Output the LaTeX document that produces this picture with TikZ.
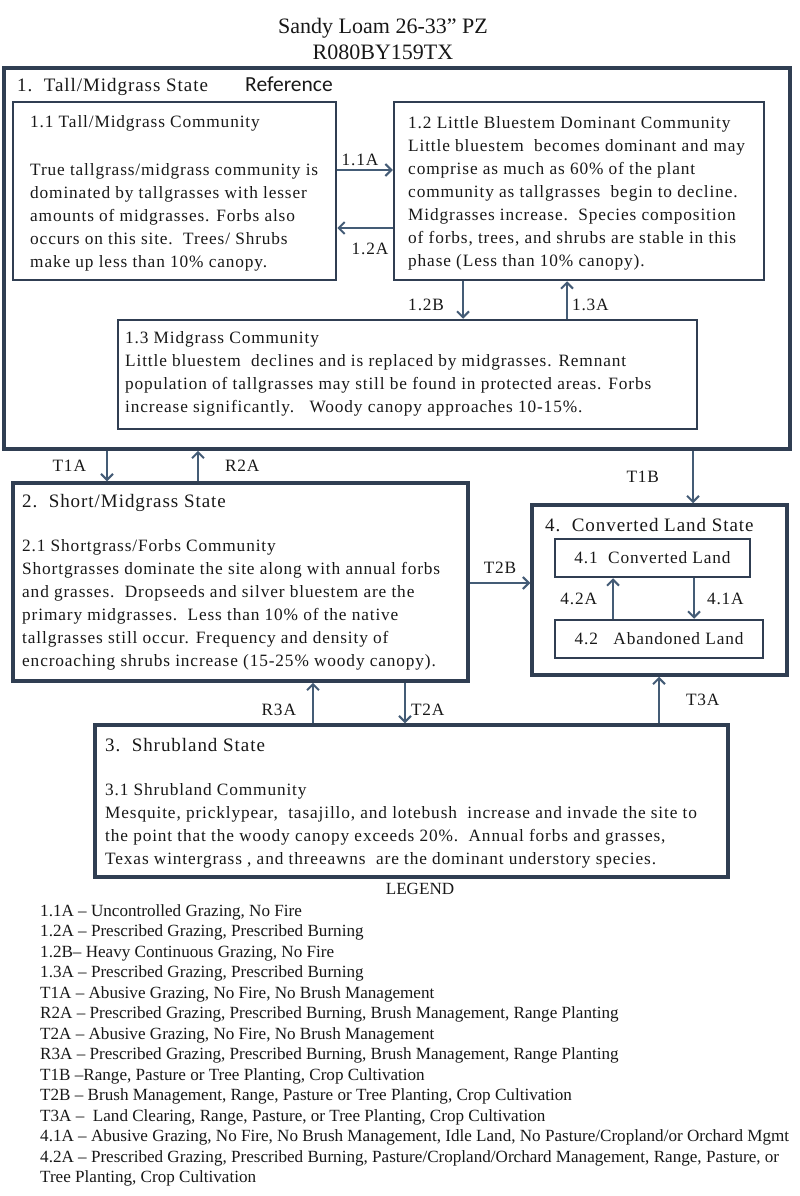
\documentclass[tikz,border=0pt]{standalone}
\usepackage{fontspec}
\setmainfont{Liberation Serif}
\newfontfamily\boxserif[LetterSpace=5]{Liberation Serif}
\newfontfamily\refsans{Carlito}
\usetikzlibrary{arrows.meta}
\definecolor{boxline}{RGB}{48,62,82}
\definecolor{arrline}{RGB}{68,92,118}
\definecolor{ink}{RGB}{24,24,24}
\newcommand\bodysize{\boxserif\fontsize{17.3}{23}\selectfont}
\newcommand\statesize{\boxserif\fontsize{19}{22}\selectfont}
\newcommand\legsize{\fontsize{17.1}{20.5}\selectfont}
\newcommand\titlesize{\fontsize{22}{24}\selectfont}
\tikzset{
  statebox/.style={draw=boxline, line width=3.5pt, inner sep=0pt},
  commbox/.style={draw=boxline, line width=2.5pt, inner sep=0pt, font=\bodysize, text=ink},
  blk/.style={anchor=north west, align=left, inner sep=0pt, font=\bodysize, text=ink},
  stitle/.style={anchor=west, inner sep=0pt, font=\statesize, text=ink},
  lbl/.style={inner sep=0pt, font=\bodysize, text=ink},
  trans/.style={->, draw=arrline, line width=2pt}
}
\begin{document}
\begin{tikzpicture}[x=1pt, y=-1pt, >={Straight Barb[length=6pt,width=12pt]}]
\useasboundingbox (0,0) rectangle (800,1196);

\node[font=\titlesize, text=ink] (title) at (383,28) {Sandy Loam 26-33” PZ};
\node[font=\titlesize, text=ink] (siteid) at (383,52) {R080BY159TX};

\node[statebox, minimum width=786pt, minimum height=381pt] (s1) at (397,258.5) {};
\node[commbox, minimum width=323pt, minimum height=178pt] (c11) at (174.5,191) {};
\node[commbox, minimum width=370pt, minimum height=178pt] (c12) at (579,191) {};
\node[commbox, minimum width=579pt, minimum height=109pt] (c13) at (407.5,374.5) {};
\node[statebox, minimum width=455pt, minimum height=198pt] (s2) at (240.5,582) {};
\node[statebox, minimum width=255pt, minimum height=170pt] (s4) at (659.5,590) {};
\node[commbox, minimum width=195pt, minimum height=38pt] (c41) at (652.5,558) {4.1\ \ Converted Land};
\node[commbox, minimum width=208pt, minimum height=38pt] (c42) at (659,639) {4.2\ \ \ Abandoned Land};
\node[statebox, minimum width=633pt, minimum height=152pt] (s3) at (411.5,801) {};

\node[stitle] (s1name) at (17,87) {1.\ \ Tall/Midgrass State};
\node[anchor=west, inner sep=0pt, font=\refsans\fontsize{21.5}{24}\selectfont, text=ink] (refname) at (245,84) {Reference};
\node[blk] (c11text) at (30,115) {1.1 Tall/Midgrass Community\\[25pt]
True tallgrass/midgrass community is\\
dominated by tallgrasses with lesser\\
amounts of midgrasses. Forbs also\\
occurs on this site.\ \ Trees/ Shrubs\\
make up less than 10\% canopy.};
\node[blk] (c12text) at (408,116) {1.2 Little Bluestem Dominant Community\\
Little bluestem\ \ becomes dominant and may\\
comprise as much as 60\% of the plant\\
community as tallgrasses\ \ begin to decline.\\
Midgrasses increase.\ \ Species composition\\
of forbs, trees, and shrubs are stable in this\\
phase (Less than 10\% canopy).};
\node[blk] (c13text) at (125,331) {1.3 Midgrass Community\\
Little bluestem\ \ declines and is replaced by midgrasses. Remnant\\
population of tallgrasses may still be found in protected areas. Forbs\\
increase significantly.\ \ \ Woody canopy approaches 10-15\%.};

\node[stitle] (s2name) at (22,503) {2.\ \ Short/Midgrass State};
\node[blk] (s2text) at (22,539) {2.1 Shortgrass/Forbs Community\\
Shortgrasses dominate the site along with annual forbs\\
and grasses.\ \ Dropseeds and silver bluestem are the\\
primary midgrasses.\ \ Less than 10\% of the native\\
tallgrasses still occur. Frequency and density of\\
encroaching shrubs increase (15-25\% woody canopy).};

\node[stitle] (s4name) at (545,525) {4.\ \ Converted Land State};

\node[stitle] (s3name) at (105,745) {3.\ \ Shrubland State};
\node[blk] (s3text) at (105,783) {3.1 Shrubland Community\\
Mesquite, pricklypear,\ \ tasajillo, and lotebush\ \ increase and invade the site to\\
the point that the woody canopy exceeds 20\%.\ \ Annual forbs and grasses,\\
Texas wintergrass , and threeawns\ \ are the dominant understory species.};

\draw[trans] (c11.east |- 0,170) -- node[lbl, above=3pt, xshift=-5pt] {1.1A} (c12.west |- 0,170);
\draw[trans] (c12.west |- 0,228) -- node[lbl, below=14pt, xshift=5pt] {1.2A} (c11.east |- 0,228);
\draw[trans] (c12.south -| 463,0) -- node[lbl, left=18pt, yshift=-5pt] {1.2B} (c13.north -| 463,0);
\draw[trans] (c13.north -| 567,0) -- node[lbl, right=4pt, yshift=-5pt] {1.3A} (c12.south -| 567,0);
\draw[trans] (s1.south -| 107,0) -- node[lbl, left=20pt] {T1A} (s2.north -| 107,0);
\draw[trans] (s2.north -| 198,0) -- node[lbl, right=26pt] {R2A} (s1.south -| 198,0);
\draw[trans] (s1.south -| 693,0) -- node[lbl, left=33pt] {T1B} (s4.north -| 693,0);
\draw[trans] (s2.east |- 0,583) -- node[lbl, above=8pt] {T2B} (s4.west |- 0,583);
\draw[trans] (c41.south -| 694,0) -- node[lbl, right=12pt] {4.1A} (c42.north -| 694,0);
\draw[trans] (c42.north -| 613,0) -- node[lbl, left=15pt] {4.2A} (c41.south -| 613,0);
\draw[trans] (s3.north -| 313,0) -- node[lbl, left=16pt, yshift=-7pt] {R3A} (s2.south -| 313,0);
\draw[trans] (s2.south -| 405,0) -- node[lbl, right=5pt, yshift=-7pt] {T2A} (s3.north -| 405,0);
\draw[trans] (s3.north -| 659,0) -- node[lbl, right=26pt] {T3A} (s4.south -| 659,0);

\node[font=\legsize, text=ink] (legend) at (420,889) {LEGEND};
\node[blk, font=\legsize] (legtext) at (40,904) {1.1A – Uncontrolled Grazing, No Fire\\
1.2A – Prescribed Grazing, Prescribed Burning\\
1.2B– Heavy Continuous Grazing, No Fire\\
1.3A – Prescribed Grazing, Prescribed Burning\\
T1A – Abusive Grazing, No Fire, No Brush Management\\
R2A – Prescribed Grazing, Prescribed Burning, Brush Management, Range Planting\\
T2A – Abusive Grazing, No Fire, No Brush Management\\
R3A – Prescribed Grazing, Prescribed Burning, Brush Management, Range Planting\\
T1B –Range, Pasture or Tree Planting, Crop Cultivation\\
T2B – Brush Management, Range, Pasture or Tree Planting, Crop Cultivation\\
T3A –\ \ Land Clearing, Range, Pasture, or Tree Planting, Crop Cultivation\\
4.1A – Abusive Grazing, No Fire, No Brush Management, Idle Land, No Pasture/Cropland/or Orchard Mgmt\\
4.2A – Prescribed Grazing, Prescribed Burning, Pasture/Cropland/Orchard Management, Range, Pasture, or\\
Tree Planting, Crop Cultivation};
\end{tikzpicture}
\end{document}
